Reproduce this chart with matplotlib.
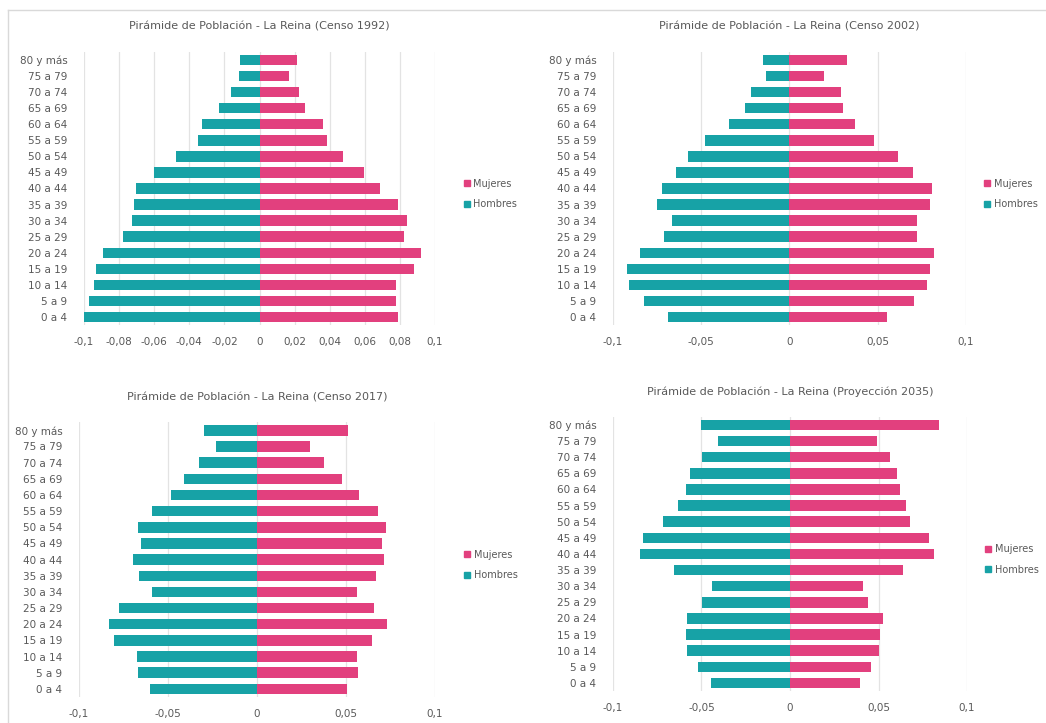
import matplotlib
matplotlib.use("Agg")
import matplotlib.pyplot as plt
from matplotlib.patches import Patch
from matplotlib.lines import Line2D

plt.rcParams['font.family'] = ['Liberation Sans Narrow', 'DejaVu Sans']

grupos = ["0 a 4", "5 a 9", "10 a 14", "15 a 19", "20 a 24", "25 a 29", "30 a 34",
          "35 a 39", "40 a 44", "45 a 49", "50 a 54", "55 a 59", "60 a 64",
          "65 a 69", "70 a 74", "75 a 79", "80 y más"]

# proporciones (de 0 a 4 hasta 80 y mas)
hombres_1992 = [0.101, 0.0973, 0.0943, 0.0931, 0.0889, 0.078, 0.0724, 0.0716, 0.0701,
                0.0602, 0.0473, 0.0349, 0.0326, 0.023, 0.0163, 0.0115, 0.0109]
mujeres_1992 = [0.0789, 0.0776, 0.0776, 0.0881, 0.092, 0.0824, 0.0839, 0.0789, 0.0684,
                0.0598, 0.0473, 0.0387, 0.0364, 0.0259, 0.0224, 0.0167, 0.0216]

hombres_2002 = [0.069, 0.0823, 0.0908, 0.0923, 0.0845, 0.0709, 0.0668, 0.0753, 0.0723,
                0.0645, 0.0577, 0.0479, 0.0343, 0.0251, 0.0217, 0.0134, 0.0149]
mujeres_2002 = [0.0553, 0.0708, 0.0779, 0.0798, 0.0821, 0.0721, 0.0723, 0.0798, 0.0806,
                0.0698, 0.0615, 0.0481, 0.0374, 0.0304, 0.0291, 0.0194, 0.0326]

hombres_2017 = [0.0601, 0.0667, 0.0672, 0.0803, 0.0833, 0.0775, 0.0592, 0.0663, 0.0699,
                0.065, 0.0669, 0.0588, 0.0485, 0.041, 0.0328, 0.0228, 0.0298]
mujeres_2017 = [0.0506, 0.0569, 0.0562, 0.0644, 0.073, 0.0659, 0.0562, 0.0667, 0.0713,
                0.0702, 0.0723, 0.068, 0.0571, 0.0476, 0.0378, 0.03, 0.0511]

hombres_2035 = [0.0449, 0.0521, 0.0583, 0.0588, 0.0581, 0.0496, 0.0438, 0.0658, 0.0848,
                0.0833, 0.072, 0.063, 0.0586, 0.0566, 0.0496, 0.0406, 0.0504]
mujeres_2035 = [0.0397, 0.0459, 0.0502, 0.0508, 0.0523, 0.044, 0.0415, 0.0641, 0.0812,
                0.0784, 0.0679, 0.0658, 0.0622, 0.0607, 0.0566, 0.0492, 0.084]

titulos = ["Pirámide de Población - La Reina (Censo 1992)",
           "Pirámide de Población - La Reina (Censo 2002)",
           "Pirámide de Población - La Reina (Censo 2017)",
           "Pirámide de Población - La Reina (Proyección 2035)"]

ticks_fino = [-0.1, -0.08, -0.06, -0.04, -0.02, 0, 0.02, 0.04, 0.06, 0.08, 0.1]
ticks_grueso = [-0.1, -0.05, 0, 0.05, 0.1]

ROSA = "#E2407E"
TEAL = "#17A2A6"
GRIS = "#595959"


def etiqueta(v):
    if v == 0:
        return "0"
    return ("%g" % v).replace(".", ",")


def piramide(ax, hombres, mujeres, titulo, ticks, leg_x):
    y = range(len(grupos))
    ax.barh(y, [-h for h in hombres], height=0.65, color=TEAL, zorder=3)
    ax.barh(y, mujeres, height=0.65, color=ROSA, zorder=3)
    ax.set_xlim(-0.1, 0.1)
    ax.set_ylim(-0.5, len(grupos) - 0.5)
    ax.set_yticks(list(y))
    ax.set_yticklabels(grupos, fontsize=7.5, color=GRIS)
    ax.set_xticks(ticks)
    ax.set_xticklabels([etiqueta(t) for t in ticks], fontsize=7.5, color=GRIS)
    ax.tick_params(length=0)
    ax.tick_params(axis='x', pad=9)
    ax.tick_params(axis='y', pad=12)
    for s in ax.spines.values():
        s.set_visible(False)
    ax.grid(axis='x', color="#e3e3e3", linewidth=0.9, zorder=0)
    ax.set_title(titulo, fontsize=8, color=GRIS, pad=16)
    handles = [Patch(color=ROSA, label="Mujeres"), Patch(color=TEAL, label="Hombres")]
    ax.legend(handles=handles, loc='center left', bbox_to_anchor=(leg_x, 0.48),
              frameon=False, fontsize=7, labelcolor=GRIS, handlelength=0.6,
              handleheight=0.6, handletextpad=0.4, labelspacing=1.1,
              borderaxespad=0.2)


fig = plt.figure(figsize=(10.46, 7.23), dpi=100)

ax1 = fig.add_axes([0.0803, 0.5505, 0.3356, 0.3776])
ax2 = fig.add_axes([0.586, 0.5505, 0.3375, 0.3776])
ax3 = fig.add_axes([0.0755, 0.036, 0.3404, 0.380])
ax4 = fig.add_axes([0.586, 0.0443, 0.3385, 0.379])

piramide(ax1, hombres_1992, mujeres_1992, titulos[0], ticks_fino, 1.065)
piramide(ax2, hombres_2002, mujeres_2002, titulos[1], ticks_grueso, 1.035)
piramide(ax3, hombres_2017, mujeres_2017, titulos[2], ticks_grueso, 1.065)
piramide(ax4, hombres_2035, mujeres_2035, titulos[3], ticks_grueso, 1.035)

# marco gris claro arriba y a la izquierda
fig.add_artist(Line2D([8 / 1046, 1], [1 - 10 / 723, 1 - 10 / 723],
                      transform=fig.transFigure, color="#d9d9d9", linewidth=1))
fig.add_artist(Line2D([8 / 1046, 8 / 1046], [0, 1 - 10 / 723],
                      transform=fig.transFigure, color="#d9d9d9", linewidth=1))

fig.savefig("out.png", dpi=100, facecolor="white")
